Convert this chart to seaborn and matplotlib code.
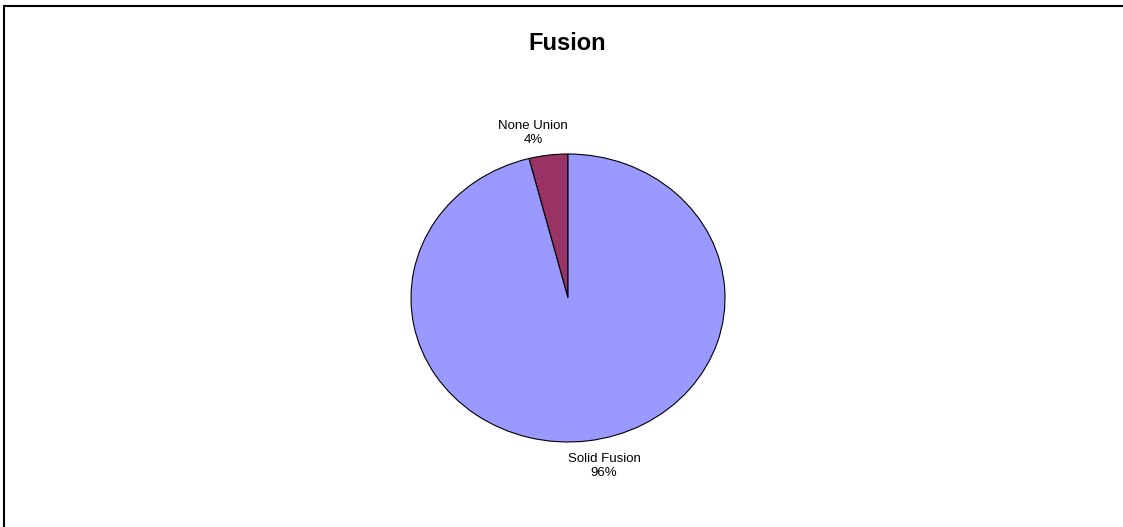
import matplotlib
matplotlib.use("Agg")
import seaborn as sns
from matplotlib import pyplot as plt
from matplotlib.lines import Line2D

# data
categories = ["None Union", "Solid Fusion"]
percents = [4, 96]
colors = ["#993366", "#9999FF"]

sns.set_style("white")
plt.rcParams['font.family'] = ['Liberation Sans', 'DejaVu Sans']
plt.rcParams['text.color'] = 'black'

W, H = 1123, 527
fig = plt.figure(figsize=(W / 100, H / 100), dpi=100)

# pie is a bit squashed vertically in the original
cx, cy, rx, ry = 568, 298, 157, 144
ax = fig.add_axes([(cx - rx) / W, (H - cy - ry) / H, 2 * rx / W, 2 * ry / H])

wedges, _ = ax.pie(percents, colors=colors, startangle=90, counterclock=True,
                   wedgeprops=dict(edgecolor="black", linewidth=0.8))
ax.set_aspect("auto")
ax.set_xlim(-1, 1)
ax.set_ylim(-1, 1)
ax.axis("off")

# labels placed like the original
label_pos = [(-0.223, 1.146), (0.229, -1.167)]
for name, pct, (lx, ly) in zip(categories, percents, label_pos):
    ax.text(lx, ly, f"{name}\n{pct}%", ha="center", va="center",
            fontsize=9.5, linespacing=1.15, color="black")

fig.text(567 / W, 1 - 43 / H, "Fusion", ha="center", va="center",
         fontsize=17, fontweight="bold", color="black")

# partial frame (top and left edges)
fig.add_artist(Line2D([3.5 / W, 1], [1 - 5.5 / H, 1 - 5.5 / H],
                      transform=fig.transFigure, color="black", linewidth=1.5))
fig.add_artist(Line2D([3.5 / W, 3.5 / W], [0, 1 - 5.5 / H],
                      transform=fig.transFigure, color="black", linewidth=1.5))

fig.savefig("out.png", dpi=100)
